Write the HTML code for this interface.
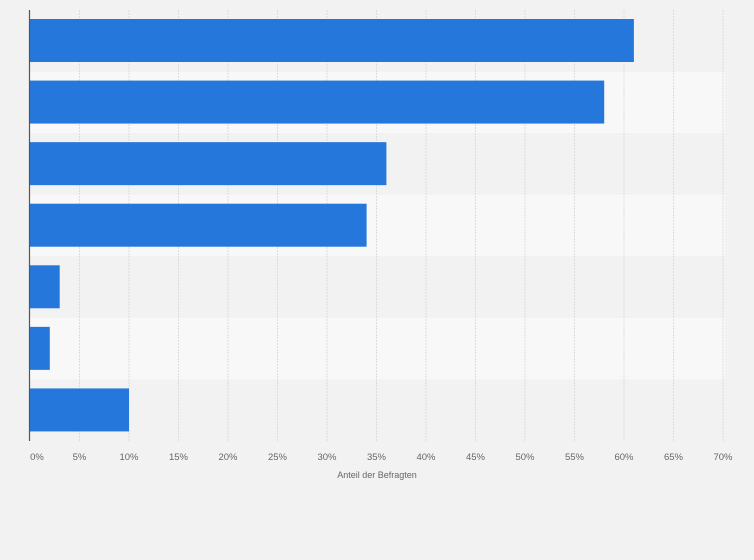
<!DOCTYPE html>
<html><head><meta charset="utf-8"><style>
html,body{margin:0;padding:0;background:#f2f2f2;}
svg{display:block;font-family:"Liberation Sans",sans-serif;}
</style></head><body>
<svg id="chart" width="754" height="560">
<rect x="0" y="0" width="754" height="560" fill="#f2f2f2"/>
<g id="bands"></g><g id="grid"></g><g id="bars"></g><g id="ticks"></g>
<line x1="29.5" y1="10" x2="29.5" y2="441" stroke="#555" stroke-width="1.2"/>
<text x="377" y="478" text-anchor="middle" font-size="9" fill="#666">Anteil der Befragten</text>
</svg>
<script>
const categories = ["A","B","C","D","E","F","G"];
const values = [61, 58, 36, 34, 3, 2, 10];
const tickValues = [0,5,10,15,20,25,30,35,40,45,50,55,60,65,70];
const tickLabels = ["0%","5%","10%","15%","20%","25%","30%","35%","40%","45%","50%","55%","60%","65%","70%"];
const NS="http://www.w3.org/2000/svg";
const x0=30, x1=723, yTop=10, yBot=441;
const xs=v=>x0+(x1-x0)*v/70;
const band=(yBot-yTop)/categories.length;
const bandsG=document.getElementById('bands'),gridG=document.getElementById('grid'),barsG=document.getElementById('bars'),ticksG=document.getElementById('ticks');
categories.forEach((c,i)=>{
  const r=document.createElementNS(NS,'rect');
  r.setAttribute('x',x0);r.setAttribute('y',yTop+i*band);r.setAttribute('width',x1-x0+2);r.setAttribute('height',band);
  r.setAttribute('fill',i%2?'#f8f8f8':'#f2f2f2');
  
  
  bandsG.appendChild(r);
});
tickValues.forEach((t,i)=>{
  const x=xs(t);
  if(t>0){
    const l=document.createElementNS(NS,'line');
    l.setAttribute('x1',x);l.setAttribute('x2',x);l.setAttribute('y1',yTop);l.setAttribute('y2',yBot);
    l.setAttribute('stroke','#dcdcdc');l.setAttribute('stroke-dasharray','2,1');
    
    
    gridG.appendChild(l);
  }
  const tx=document.createElementNS(NS,'text');
  tx.setAttribute('x',t===0?x+7:x);tx.setAttribute('y',460);tx.setAttribute('text-anchor','middle');
  tx.setAttribute('font-size','9.5');tx.setAttribute('fill','#666');
  tx.textContent=tickLabels[i];
  
  
  ticksG.appendChild(tx);
});
values.forEach((v,i)=>{
  const r=document.createElementNS(NS,'rect');
  r.setAttribute('x',x0);r.setAttribute('y',yTop+i*band+9);
  r.setAttribute('width',xs(v)-x0);r.setAttribute('height',43);
  r.setAttribute('fill','#2677db');
  
  
  barsG.appendChild(r);
});
</script>
</body></html>
